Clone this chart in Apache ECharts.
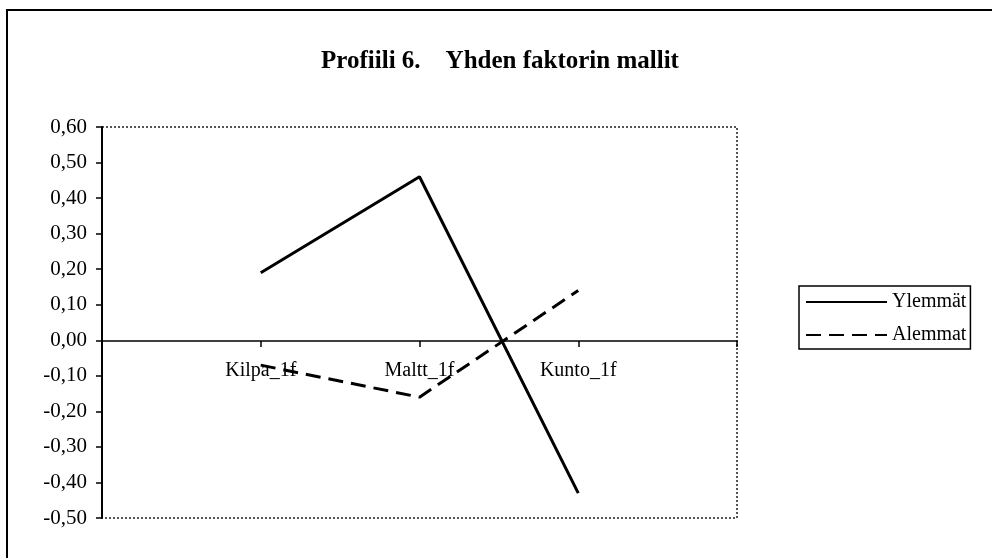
<!DOCTYPE html>
<html>
<head>
<meta charset="utf-8">
<script src="https://cdn.jsdelivr.net/npm/echarts@6/dist/echarts.min.js"></script>
<style>
    html, body { margin: 0; padding: 0; background: #fff; }
    #chart { width: 992px; height: 558px; }
</style>
</head>
<body>
<div id="chart"></div>
<script>
    var categories = ['Kilpa_1f', 'Maltt_1f', 'Kunto_1f'];
    var ylemmat = [0.19, 0.46, -0.43];
    var alemmat = [-0.07, -0.16, 0.14];
    var yTicks = { min: -0.5, max: 0.6, step: 0.1 };

    // tyhjä paikka kummallekin reunalle, kuten Excelissä
    var axisCats = [''].concat(categories).concat(['']);
    function pad(arr) {
        return [null].concat(arr).concat([null]);
    }

    var serif = 'Liberation Serif';
    var chart = echarts.init(document.getElementById('chart'));
    var option = {
        backgroundColor: '#fff',
        animation: false,
        title: {
            text: 'Profiili 6.    Yhden faktorin mallit',
            left: 495,
            textAlign: 'center',
            top: 44,
            textStyle: {
                fontFamily: serif,
                fontWeight: 'bold',
                fontSize: 25,
                color: '#000'
            }
        },
        graphic: [{
            type: 'rect',
            shape: { x: 7, y: 10, width: 1000, height: 600 },
            style: { fill: 'none', stroke: '#000', lineWidth: 2 },
            silent: true
        }],
        legend: {
            orient: 'vertical',
            left: 799,
            top: 286,
            padding: [6, 4, 4, 6],
            itemWidth: 81,
            itemHeight: 20,
            itemGap: 13,
            borderColor: '#000',
            borderWidth: 1.5,
            borderRadius: 0,
            itemStyle: { opacity: 0 },
            textStyle: {
                fontFamily: serif,
                fontSize: 20,
                color: '#000'
            },
            data: ['Ylemmät', 'Alemmat']
        },
        grid: {
            left: 102,
            top: 127,
            right: 255,
            bottom: 40,
            show: true,
            borderColor: '#555',
            borderWidth: 2,
            borderType: 'dotted'
        },
        xAxis: {
            type: 'category',
            data: axisCats,
            boundaryGap: false,
            position: 'bottom',
            // akseli nollatasolle: (0 - min) / (max - min) * korkeus
            offset: -177,
            axisLine: {
                onZero: false,
                lineStyle: { color: '#000', width: 1.5 }
            },
            axisTick: {
                length: 6,
                lineStyle: { color: '#000', width: 1.5 }
            },
            axisLabel: {
                margin: 20,
                fontFamily: serif,
                fontSize: 20,
                color: '#000'
            },
            splitLine: { show: false }
        },
        yAxis: {
            type: 'value',
            min: yTicks.min,
            max: yTicks.max,
            interval: yTicks.step,
            axisLine: {
                show: true,
                lineStyle: { color: '#000', width: 2 }
            },
            axisTick: {
                show: true,
                length: 6,
                lineStyle: { color: '#000', width: 1.5 }
            },
            axisLabel: {
                margin: 15,
                fontFamily: serif,
                fontSize: 21,
                color: '#000',
                formatter: function (v) {
                    return v.toFixed(2).replace('.', ',');
                }
            },
            splitLine: { show: false }
        },
        series: [{
            name: 'Ylemmät',
            type: 'line',
            symbol: 'none',
            data: pad(ylemmat),
            lineStyle: { color: '#000', width: 3 },
            itemStyle: { color: '#000' }
        }, {
            name: 'Alemmat',
            type: 'line',
            symbol: 'none',
            data: pad(alemmat),
            lineStyle: { color: '#000', width: 3, type: [15, 8] },
            itemStyle: { color: '#000' }
        }]
    };
    chart.setOption(option);
</script>
</body>
</html>
